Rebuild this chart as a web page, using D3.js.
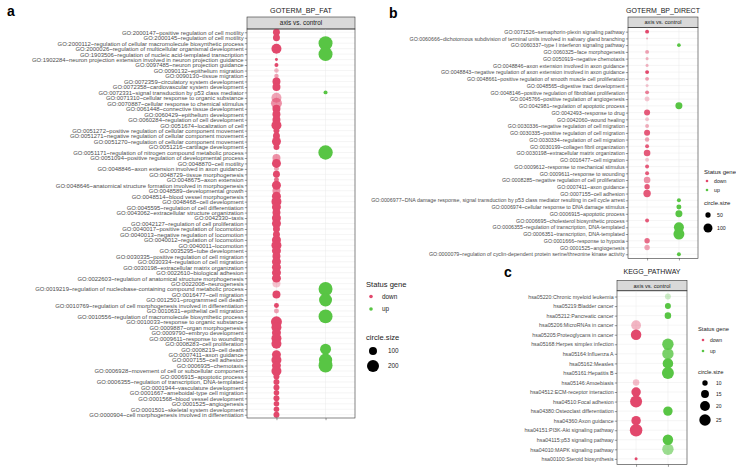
<!DOCTYPE html>
<html>
<head>
<meta charset="utf-8">
<script src="https://cdn.jsdelivr.net/npm/d3@7"></script>
<style>
  body { margin: 0; background: #fff; }
  text { font-family: "Liberation Sans", Arial, sans-serif; }
</style>
</head>
<body>
<div id="chart"></div>
<script>
// ---------- panel a: GOTERM_BP_FAT ----------
const fatTerms = [
  'GO:2000147~positive regulation of cell motility',
  'GO:2000145~regulation of cell motility',
  'GO:2000112~regulation of cellular macromolecule biosynthetic process',
  'GO:2000026~regulation of multicellular organismal development',
  'GO:1903506~regulation of nucleic acid-templated transcription',
  'GO:1902284~neuron projection extension involved in neuron projection guidance',
  'GO:0097485~neuron projection guidance',
  'GO:0090132~epithelium migration',
  'GO:0090130~tissue migration',
  'GO:0072359~circulatory system development',
  'GO:0072358~cardiovascular system development',
  'GO:0072331~signal transduction by p53 class mediator',
  'GO:0071310~cellular response to organic substance',
  'GO:0070887~cellular response to chemical stimulus',
  'GO:0061448~connective tissue development',
  'GO:0060429~epithelium development',
  'GO:0060284~regulation of cell development',
  'GO:0051674~localization of cell',
  'GO:0051272~positive regulation of cellular component movement',
  'GO:0051271~negative regulation of cellular component movement',
  'GO:0051270~regulation of cellular component movement',
  'GO:0051216~cartilage development',
  'GO:0051171~regulation of nitrogen compound metabolic process',
  'GO:0051094~positive regulation of developmental process',
  'GO:0048870~cell motility',
  'GO:0048846~axon extension involved in axon guidance',
  'GO:0048729~tissue morphogenesis',
  'GO:0048675~axon extension',
  'GO:0048646~anatomical structure formation involved in morphogenesis',
  'GO:0048589~developmental growth',
  'GO:0048514~blood vessel morphogenesis',
  'GO:0048468~cell development',
  'GO:0045595~regulation of cell differentiation',
  'GO:0043062~extracellular structure organization',
  'GO:0042330~taxis',
  'GO:0042127~regulation of cell proliferation',
  'GO:0040017~positive regulation of locomotion',
  'GO:0040013~negative regulation of locomotion',
  'GO:0040012~regulation of locomotion',
  'GO:0040011~locomotion',
  'GO:0035295~tube development',
  'GO:0030335~positive regulation of cell migration',
  'GO:0030334~regulation of cell migration',
  'GO:0030198~extracellular matrix organization',
  'GO:0022610~biological adhesion',
  'GO:0022603~regulation of anatomical structure morphogenesis',
  'GO:0022008~neurogenesis',
  'GO:0019219~regulation of nucleobase-containing compound metabolic process',
  'GO:0016477~cell migration',
  'GO:0012501~programmed cell death',
  'GO:0010769~regulation of cell morphogenesis involved in differentiation',
  'GO:0010631~epithelial cell migration',
  'GO:0010556~regulation of macromolecule biosynthetic process',
  'GO:0010033~response to organic substance',
  'GO:0009887~organ morphogenesis',
  'GO:0009790~embryo development',
  'GO:0009611~response to wounding',
  'GO:0008283~cell proliferation',
  'GO:0008219~cell death',
  'GO:0007411~axon guidance',
  'GO:0007155~cell adhesion',
  'GO:0006935~chemotaxis',
  'GO:0006928~movement of cell or subcellular component',
  'GO:0006915~apoptotic process',
  'GO:0006355~regulation of transcription, DNA-templated',
  'GO:0001944~vasculature development',
  'GO:0001667~ameboidal-type cell migration',
  'GO:0001568~blood vessel development',
  'GO:0001525~angiogenesis',
  'GO:0001501~skeletal system development',
  'GO:0000904~cell morphogenesis involved in differentiation'
];
// gene counts (0 = term not found in that group)
const fatDown = [81, 81, 0, 145, 0, 31, 40, 46, 45, 100, 100, 0, 145, 171, 100, 100, 100, 145,
  65, 81, 121, 65, 0, 100, 121, 51, 81, 51, 121, 100, 121, 145, 121, 100, 121, 121, 81, 81,
  121, 145, 121, 100, 121, 121, 121, 121, 100, 0, 100, 0, 51, 51, 0, 171, 145, 121, 145, 145,
  0, 121, 145, 121, 145, 65, 65, 65, 59, 65, 59, 59, 65];
const fatDownSig = [5, 5, 0, 5, 0, 5, 5, 2, 2.5, 5, 5, 0, 2.5, 3, 5, 5, 5, 5,
  5, 5, 5, 5, 0, 3, 5, 2.5, 5, 4, 5, 3, 5, 5, 5, 5, 5, 5, 5, 5,
  5, 5, 5, 5, 5, 5, 5, 5, 1.6, 0, 5, 0, 5, 2.5, 0, 5, 5, 5, 5, 5,
  0, 5, 5, 5, 5, 5, 5, 5, 5, 5, 5, 5, 5];
const fatUp = [0, 0, 265, 0, 265, 0, 0, 0, 0, 0, 0, 40, 0, 0, 0, 0, 0, 0,
  0, 0, 0, 0, 280, 0, 0, 0, 0, 0, 0, 0, 0, 0, 0, 0, 0, 0, 0, 0,
  0, 0, 0, 0, 0, 0, 0, 0, 0, 265, 0, 230, 0, 0, 265, 0, 0, 0, 0, 0,
  170, 0, 240, 265, 0, 0, 0, 0, 0, 0, 0, 0, 0];
const fatUpSig = fatUp.map(v => v ? 5 : 0);

// ---------- panel b: GOTERM_BP_DIRECT ----------
const directTerms = [
  'GO:0071526~semaphorin-plexin signaling pathway',
  'GO:0060666~dichotomous subdivision of terminal units involved in salivary gland branching',
  'GO:0060337~type I interferon signaling pathway',
  'GO:0060325~face morphogenesis',
  'GO:0050919~negative chemotaxis',
  'GO:0048846~axon extension involved in axon guidance',
  'GO:0048843~negative regulation of axon extension involved in axon guidance',
  'GO:0048661~positive regulation of smooth muscle cell proliferation',
  'GO:0048565~digestive tract development',
  'GO:0048146~positive regulation of fibroblast proliferation',
  'GO:0045766~positive regulation of angiogenesis',
  'GO:0042981~regulation of apoptotic process',
  'GO:0042493~response to drug',
  'GO:0042060~wound healing',
  'GO:0030336~negative regulation of cell migration',
  'GO:0030335~positive regulation of cell migration',
  'GO:0030334~regulation of cell migration',
  'GO:0030199~collagen fibril organization',
  'GO:0030198~extracellular matrix organization',
  'GO:0016477~cell migration',
  'GO:0009612~response to mechanical stimulus',
  'GO:0009611~response to wounding',
  'GO:0008285~negative regulation of cell proliferation',
  'GO:0007411~axon guidance',
  'GO:0007155~cell adhesion',
  'GO:0006977~DNA damage response, signal transduction by p53 class mediator resulting in cell cycle arrest',
  'GO:0006974~cellular response to DNA damage stimulus',
  'GO:0006915~apoptotic process',
  'GO:0006695~cholesterol biosynthetic process',
  'GO:0006355~regulation of transcription, DNA-templated',
  'GO:0006351~transcription, DNA-templated',
  'GO:0001666~response to hypoxia',
  'GO:0001525~angiogenesis',
  'GO:0000079~regulation of cyclin-dependent protein serine/threonine kinase activity'
];
const directDown = [38, 27, 0, 38, 32, 32, 38, 38, 32, 38, 47, 0, 58, 38, 38, 58, 42, 38,
  65, 38, 38, 38, 65, 51, 76, 0, 0, 0, 38, 0, 0, 51, 51, 0];
const directDownSig = [5, 2, 0, 2.5, 2, 2, 5, 2.5, 1.5, 3.5, 1.5, 0, 4.5, 1.5, 2.2, 4.5, 2.5, 4.5,
  4.5, 1.5, 4.5, 4.5, 3, 4.5, 4.5, 0, 0, 0, 4.5, 0, 0, 4, 2.5, 0];
const directUp = [0, 0, 36, 0, 0, 0, 0, 0, 0, 0, 0, 70, 0, 0, 0, 0, 0, 0,
  0, 0, 0, 0, 0, 0, 0, 38, 47, 70, 0, 119, 139, 0, 0, 38];
const directUpSig = directUp.map(v => v ? 5 : 0);

// ---------- panel c: KEGG_PATHWAY ----------
const keggTerms = [
  'hsa05220:Chronic myeloid leukemia',
  'hsa05219:Bladder cancer',
  'hsa05212:Pancreatic cancer',
  'hsa05206:MicroRNAs in cancer',
  'hsa05205:Proteoglycans in cancer',
  'hsa05168:Herpes simplex infection',
  'hsa05164:Influenza A',
  'hsa05162:Measles',
  'hsa05161:Hepatitis B',
  'hsa05146:Amoebiasis',
  'hsa04512:ECM-receptor interaction',
  'hsa04510:Focal adhesion',
  'hsa04380:Osteoclast differentiation',
  'hsa04360:Axon guidance',
  'hsa04151:PI3K-Akt signaling pathway',
  'hsa04115:p53 signaling pathway',
  'hsa04010:MAPK signaling pathway',
  'hsa00100:Steroid biosynthesis'
];
const keggDown = [0, 0, 0, 20, 22, 0, 0, 0, 0, 12, 19, 27, 0, 19, 29, 0, 0, 7];
const keggDownSig = [0, 0, 0, 2, 5, 0, 0, 0, 0, 1.8, 5, 5, 0, 5, 5, 0, 0, 5];
const keggUp = [11, 11, 12, 0, 0, 25, 25, 22, 27, 0, 0, 0, 19, 0, 0, 22, 25, 0];
const keggUpSig = [1.5, 5, 5, 0, 0, 4.5, 4, 5, 5, 0, 0, 0, 5, 0, 0, 5, 3, 0];

// ---------- drawing ----------
const W = 736, H = 470;
const RED = '#E2486C', GREEN = '#58C544';
const GRID = '#EBEBEB', BORDER = '#333333', LABEL = '#4D4D4D';

const svg = d3.select('#chart').append('svg')
  .attr('width', W).attr('height', H);

// significance -> opacity
const alpha = d3.scaleLinear().domain([1, 5]).range([0.2, 1]).clamp(true);

function drawPanel(p) {
  const x = d3.scalePoint().domain(['down', 'up'])
    .range([p.x0, p.x1]).padding(0.6);
  const y = d3.scalePoint().domain(p.terms)
    .range([p.y0, p.y1]).padding(0.6);
  const r = d3.scaleRadial().domain(p.sizeDomain).range(p.rRange);
  const g = svg.append('g');

  // panel letter + title
  g.append('text').attr('x', p.letter[0]).attr('y', p.letter[1])
    .text(p.letter[2]).attr('font-size', 14).attr('font-weight', 'bold');
  g.append('text').attr('x', (p.x0 + p.x1) / 2).attr('y', p.titleY)
    .attr('text-anchor', 'middle').attr('font-size', p.titleSize)
    .attr('fill', '#1a1a1a').text(p.title);

  // strip
  g.append('rect').attr('x', p.x0).attr('y', p.stripY)
    .attr('width', p.x1 - p.x0).attr('height', p.y0 - p.stripY)
    .attr('fill', '#D9D9D9').attr('stroke', BORDER).attr('stroke-width', 0.6);
  g.append('text').attr('x', (p.x0 + p.x1) / 2).attr('y', (p.stripY + p.y0) / 2)
    .attr('dy', '0.35em').attr('text-anchor', 'middle')
    .attr('font-size', p.stripSize).attr('fill', '#1a1a1a').text('axis vs. control');

  // grid
  g.selectAll('.hgrid').data(p.terms).enter().append('line')
    .attr('x1', p.x0).attr('x2', p.x1)
    .attr('y1', d => y(d)).attr('y2', d => y(d))
    .attr('stroke', GRID).attr('stroke-width', 0.5);
  g.selectAll('.vgrid').data(x.domain()).enter().append('line')
    .attr('x1', d => x(d)).attr('x2', d => x(d))
    .attr('y1', p.y0).attr('y2', p.y1)
    .attr('stroke', GRID).attr('stroke-width', 0.5);

  // points
  const pts = [];
  p.terms.forEach((t, i) => {
    if (p.down[i] > 0) pts.push({t: t, grp: 'down', n: p.down[i], s: p.downSig[i]});
  });
  p.terms.forEach((t, i) => {
    if (p.up[i] > 0) pts.push({t: t, grp: 'up', n: p.up[i], s: p.upSig[i]});
  });
  g.selectAll('.pt').data(pts).enter().append('circle')
    .attr('cx', d => x(d.grp)).attr('cy', d => y(d.t))
    .attr('r', d => r(d.n))
    .attr('fill', d => d.grp == 'down' ? RED : GREEN)
    .attr('fill-opacity', d => alpha(d.s));

  // border
  g.append('rect').attr('x', p.x0).attr('y', p.y0)
    .attr('width', p.x1 - p.x0).attr('height', p.y1 - p.y0)
    .attr('fill', 'none').attr('stroke', BORDER).attr('stroke-width', 0.6);

  // axes
  const ay = g.append('g').attr('transform', 'translate(' + p.x0 + ',0)')
    .call(d3.axisLeft(y).tickSize(2.2).tickPadding(1.2));
  ay.select('.domain').remove();
  ay.attr('font-family', '"Liberation Sans", Arial, sans-serif');
  ay.selectAll('text').attr('font-size', p.labelSize).attr('fill', LABEL);
  ay.selectAll('line').attr('stroke', BORDER).attr('stroke-width', 0.5);

  const ax = g.append('g').attr('transform', 'translate(0,' + p.y1 + ')')
    .call(d3.axisBottom(x).tickSize(2.2).tickFormat(''));
  ax.select('.domain').remove();
  ax.selectAll('line').attr('stroke', BORDER).attr('stroke-width', 0.5);

  // legend
  const L = p.legend;
  const lg = g.append('g');
  lg.append('text').attr('x', L.x).attr('y', L.statusY).attr('dy', '0.35em')
    .attr('font-size', L.titleSize).attr('fill', '#1a1a1a').text('Status gene');
  [['down', RED], ['up', GREEN]].forEach((k, i) => {
    const cy = L.statusY + L.keyStep * (i + 1);
    lg.append('circle').attr('cx', L.dotX).attr('cy', cy).attr('r', L.keyR).attr('fill', k[1]);
    lg.append('text').attr('x', L.textX).attr('y', cy).attr('dy', '0.35em')
      .attr('font-size', L.textSize).attr('fill', '#1a1a1a').text(k[0]);
  });
  lg.append('text').attr('x', L.x).attr('y', L.sizeY).attr('dy', '0.35em')
    .attr('font-size', L.titleSize).attr('fill', '#1a1a1a').text('circle.size');
  L.sizes.forEach((s, i) => {
    const cy = L.sizeRows[i];
    lg.append('circle').attr('cx', L.sizeDotX).attr('cy', cy).attr('r', r(s)).attr('fill', '#000');
    lg.append('text').attr('x', L.sizeTextX).attr('y', cy).attr('dy', '0.35em')
      .attr('font-size', L.textSize).attr('fill', '#1a1a1a').text(s);
  });
}

drawPanel({
  terms: fatTerms, down: fatDown, downSig: fatDownSig, up: fatUp, upSig: fatUpSig,
  x0: 247, x1: 355, y0: 29, y1: 418, stripY: 17,
  sizeDomain: [30, 280], rRange: [1.41, 7.2],
  letter: [7, 16, 'a'], title: 'GOTERM_BP_FAT', titleY: 12.5, titleSize: 7.2,
  stripSize: 6.4, labelSize: 5.9,
  legend: {x: 366, statusY: 284, keyStep: 12.5, dotX: 371, textX: 382, keyR: 1.8,
    titleSize: 7.6, textSize: 6.4, sizeY: 337, sizes: [100, 200], sizeRows: [351, 366],
    sizeDotX: 373, sizeTextX: 388}
});

drawPanel({
  terms: directTerms, down: directDown, downSig: directDownSig, up: directUp, upSig: directUpSig,
  x0: 628, x1: 698, y0: 27.6, y1: 258.3, stripY: 17,
  sizeDomain: [25, 140], rRange: [0.71, 5.51],
  letter: [389, 18, 'b'], title: 'GOTERM_BP_DIRECT', titleY: 13, titleSize: 7,
  stripSize: 5.6, labelSize: 5.3,
  legend: {x: 704, statusY: 172, keyStep: 9, dotX: 707, textX: 714, keyR: 1.3,
    titleSize: 6, textSize: 5.2, sizeY: 203, sizes: [50, 100], sizeRows: [215, 228],
    sizeDotX: 708, sizeTextX: 717}
});

drawPanel({
  terms: keggTerms, down: keggDown, downSig: keggDownSig, up: keggUp, upSig: keggUpSig,
  x0: 617, x1: 687, y0: 290.8, y1: 464.6, stripY: 280.5,
  sizeDomain: [7, 29], rRange: [1.5, 6.26],
  letter: [504, 277, 'c'], title: 'KEGG_PATHWAY', titleY: 274, titleSize: 7,
  stripSize: 5.6, labelSize: 5.3,
  legend: {x: 698, statusY: 329, keyStep: 11, dotX: 703, textX: 710, keyR: 1.3,
    titleSize: 5.8, textSize: 5, sizeY: 372, sizes: [10, 15, 20, 25], sizeRows: [383, 394, 406, 420],
    sizeDotX: 705, sizeTextX: 716}
});
</script>
</body>
</html>
